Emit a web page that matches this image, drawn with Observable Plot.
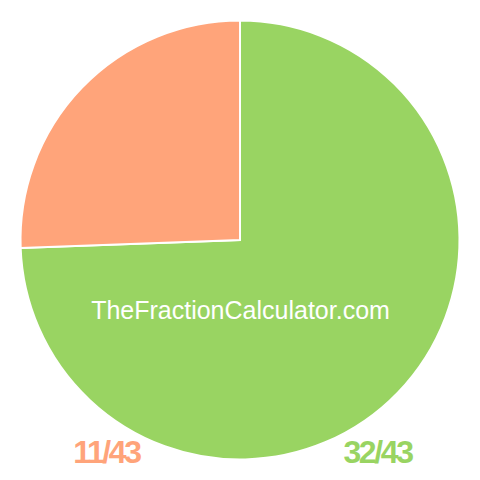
<!DOCTYPE html>
<html>
<head>
<meta charset="utf-8">
<script src="https://cdn.jsdelivr.net/npm/d3@7"></script>
<script src="https://cdn.jsdelivr.net/npm/@observablehq/plot@0.6"></script>
<style>
  html, body { margin: 0; padding: 0; background: #fff; }
</style>
</head>
<body>
<div id="chart"></div>
<script>
const labels = ["32/43", "11/43"];
const numerators = [32, 11];
const denominator = 43;
const sliceColors = ["#99d462", "#ffa47a"];
const watermark = ["TheFractionCalculator.com"];

const W = 480, H = 480, R = 219.5;
const slices = labels.map((label, i) => ({label, value: numerators[i] / denominator}));

const pie = d3.pie().sort(null).value(d => d.value).startAngle(0).endAngle(2 * Math.PI);
const arc = d3.arc().innerRadius(0).outerRadius(R);

function pieMark(index, scales, values, dimensions) {
  const cx = dimensions.width / 2, cy = dimensions.height / 2;
  const color = scales.color || (l => sliceColors[labels.indexOf(l)]);
  const g = d3.create("svg:g").attr("transform", `translate(${cx},${cy})`);
  g.selectAll("path")
    .data(pie(slices))
    .join("path")
    .attr("d", arc)
    .attr("fill", d => color(d.data.label))
    .attr("stroke", "#fff")
    .attr("stroke-width", 2)
    .attr("stroke-linejoin", "miter");
  return g.node();
}

const font = "Liberation Sans, Arial, Helvetica, sans-serif";
const chart = Plot.plot({
  width: W,
  height: H,
  margin: 0,
  style: {background: "#fff"},
  color: {type: "ordinal", domain: labels, range: sliceColors},
  marks: [
    pieMark,
    Plot.text(watermark, {
      text: d => d, frameAnchor: "middle", dy: 70,
      fill: "#fff", fontSize: 25, fontFamily: font
    }),
    Plot.text(slices, {
      text: "label", fill: "label", frameAnchor: "middle",
      fontSize: 32, fontWeight: "bold", fontFamily: font,
      filter: d => d.label === labels[1], dx: -134, dy: 212
    }),
    Plot.text(slices, {
      text: "label", fill: "label", frameAnchor: "middle",
      fontSize: 32, fontWeight: "bold", fontFamily: font,
      filter: d => d.label === labels[0], dx: 137, dy: 212
    })
  ]
});
chart.querySelectorAll("text").forEach(t => {
  if (t.textContent.includes("/")) t.setAttribute("letter-spacing", "-2.4");
});
document.getElementById("chart").append(chart);
</script>
</body>
</html>
